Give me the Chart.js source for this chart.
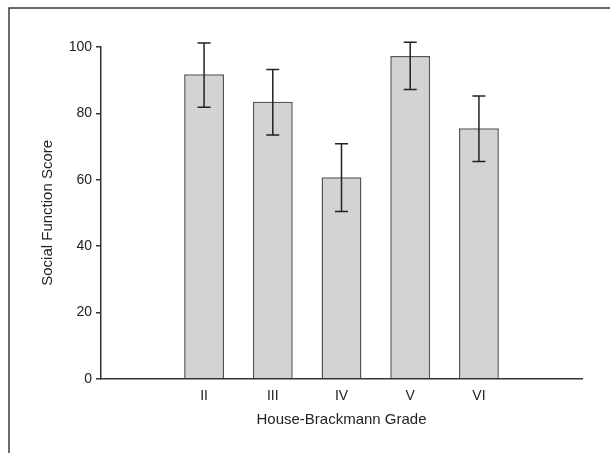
<!DOCTYPE html>
<html>
<head>
<meta charset="utf-8">
<script src="https://cdn.jsdelivr.net/npm/chart.js@4.4.1/dist/chart.umd.min.js"></script>
<style>
  html, body { margin: 0; padding: 0; background: #fff; }
</style>
</head>
<body>
<canvas id="chart" width="610" height="453"></canvas>
<script>
// blank slots at both ends keep the empty space either side of the bars
const grades = ['', 'II', 'III', 'IV', 'V', 'VI', '']
const meanScore = [null, 91.8, 83.5, 60.7, 97.3, 75.5, null]
const errTop = [null, 101.2, 93.2, 70.8, 101.4, 85.2, null]
const errBottom = [null, 81.8, 73.5, 50.4, 87.2, 65.5, null]

const FONT = "'Liberation Sans Narrow', 'Arial Narrow', 'Liberation Sans', sans-serif"

// frame line along the top and left of the figure
const framePlugin = {
    id: 'frame',
    beforeDraw(chart) {
        const ctx = chart.ctx
        ctx.save()
        ctx.strokeStyle = '#3a3a3a'
        ctx.lineWidth = 1.5
        ctx.beginPath()
        ctx.moveTo(9, 453)
        ctx.lineTo(9, 8)
        ctx.lineTo(610, 8)
        ctx.stroke()
        ctx.restore()
    }
}

const errorBars = {
    id: 'errorBars',
    afterDatasetsDraw(chart) {
        const ctx = chart.ctx
        const y = chart.scales.y
        const meta = chart.getDatasetMeta(0)
        ctx.save()
        ctx.strokeStyle = '#222'
        ctx.lineWidth = 1.5
        meta.data.forEach((bar, i) => {
            if (meanScore[i] == null) return
            const x = bar.x
            const top = y.getPixelForValue(errTop[i])
            const bottom = y.getPixelForValue(errBottom[i])
            ctx.beginPath()
            ctx.moveTo(x, top)
            ctx.lineTo(x, bottom)
            ctx.moveTo(x - 6.5, top)
            ctx.lineTo(x + 6.5, top)
            ctx.moveTo(x - 6.5, bottom)
            ctx.lineTo(x + 6.5, bottom)
            ctx.stroke()
        })
        ctx.restore()
    }
}

new Chart(document.getElementById('chart'), {
    type: 'bar',
    data: {
        labels: grades,
        datasets: [{
            data: meanScore,
            backgroundColor: '#d3d3d5',
            borderColor: '#555',
            borderWidth: 1.5,
            categoryPercentage: 1,
            barPercentage: 0.58
        }]
    },
    options: {
        responsive: false,
        animation: false,
        layout: { padding: { top: 47, right: 28, bottom: 0, left: 0 } },
        plugins: {
            legend: { display: false },
            tooltip: { enabled: false }
        },
        scales: {
            x: {
                offset: true,
                grid: { display: false, drawTicks: false },
                border: { display: true, color: '#333', width: 1.5 },
                ticks: { color: '#222', padding: 9, font: { family: FONT, size: 14 } },
                title: {
                    display: true,
                    text: 'House-Brackmann Grade',
                    color: '#222',
                    padding: { top: 0, bottom: 24 },
                    font: { family: FONT, size: 15 }
                },
                afterFit(scale) { scale.height = 74.3 }
            },
            y: {
                min: 0,
                max: 100,
                grid: { drawOnChartArea: false, drawTicks: true, tickLength: 5, color: '#333', lineWidth: 1.5 },
                border: { display: true, color: '#333', width: 1.5 },
                ticks: { stepSize: 20, color: '#222', padding: 4, font: { family: FONT, size: 14 } },
                title: {
                    display: true,
                    text: 'Social Function Score',
                    color: '#222',
                    padding: { top: 39, bottom: 0 },
                    font: { family: FONT, size: 15 }
                },
                afterFit(scale) { scale.width = 101 }
            }
        }
    },
    plugins: [framePlugin, errorBars]
})
</script>
</body>
</html>
